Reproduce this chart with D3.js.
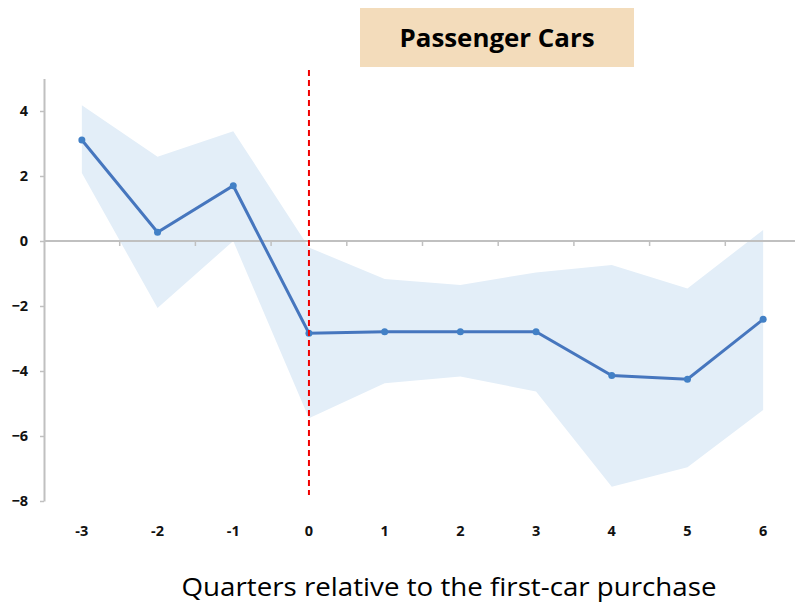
<!DOCTYPE html>
<html>
<head>
<meta charset="utf-8">
<script src="https://cdn.jsdelivr.net/npm/d3@7"></script>
<style>
  body { margin: 0; background: #fff; }
  text { font-family: "Open Sans", "Noto Sans", sans-serif; }
</style>
</head>
<body>
<div id="chart"></div>
<script>
// quarters relative to purchase
var quarters = ["-3", "-2", "-1", "0", "1", "2", "3", "4", "5", "6"];
var estimate = [3.11, 0.27, 1.70, -2.84, -2.79, -2.79, -2.79, -4.14, -4.25, -2.41];
var upper = [4.18, 2.59, 3.38, -0.2, -1.17, -1.35, -0.97, -0.74, -1.46, 0.34];
var lower = [2.09, -2.06, 0.0, -5.45, -4.38, -4.17, -4.63, -7.56, -6.96, -5.2];
var yTicks = [4, 2, 0, -2, -4, -6, -8];

var w = 795, h = 603;

var svg = d3.select("#chart").append("svg")
    .attr("width", w)
    .attr("height", h);

var xScale = d3.scaleBand()
    .domain(quarters)
    .range([44, 801]);

var yScale = d3.scaleLinear()
    .domain([-8, 5])
    .range([501, 78.5]);

function cx(d) { return xScale(d) + xScale.bandwidth() / 2; }

var rows = quarters.map(function(q, i) {
  return {q: q, est: estimate[i], hi: upper[i], lo: lower[i]};
});

// confidence band
var band = d3.area()
    .x(function(d) { return cx(d.q); })
    .y0(function(d) { return yScale(d.lo); })
    .y1(function(d) { return yScale(d.hi); });

svg.append("path")
    .datum(rows)
    .attr("d", band)
    .attr("fill", "#e3eef8");

// y axis
var yAxis = svg.append("g")
    .attr("transform", "translate(44,0)")
    .call(d3.axisLeft(yScale).tickValues(yTicks).tickSize(4).tickSizeOuter(0).tickPadding(12));
yAxis.select(".domain").attr("stroke", "#c0c0c0").attr("stroke-width", 2);
yAxis.selectAll(".tick line").attr("stroke", "#c0c0c0").attr("stroke-width", 1.5);
yAxis.selectAll(".tick text")
    .attr("font-size", 14.5)
    .attr("font-weight", "bold")
    .attr("fill", "#111");

// horizontal zero line with ticks between categories
svg.append("line")
    .attr("x1", 44).attr("x2", w)
    .attr("y1", yScale(0)).attr("y2", yScale(0))
    .attr("stroke", "#c0c0c0")
    .attr("stroke-width", 2);

svg.selectAll(".qtick")
    .data(quarters.slice(1))
    .enter()
    .append("line")
    .attr("class", "qtick")
    .attr("x1", function(d) { return xScale(d); })
    .attr("x2", function(d) { return xScale(d); })
    .attr("y1", yScale(0))
    .attr("y2", yScale(0) + 5)
    .attr("stroke", "#c0c0c0")
    .attr("stroke-width", 1.5);

// x labels at the bottom
svg.selectAll(".qlabel")
    .data(quarters)
    .enter()
    .append("text")
    .attr("class", "qlabel")
    .attr("x", function(d) { return cx(d); })
    .attr("y", 536)
    .attr("text-anchor", "middle")
    .attr("font-size", 14.5)
    .attr("font-weight", "bold")
    .attr("fill", "#111")
    .text(function(d) { return d; });

// estimate line
var line = d3.line()
    .x(function(d) { return cx(d.q); })
    .y(function(d) { return yScale(d.est); });

svg.append("path")
    .datum(rows)
    .attr("d", line)
    .attr("fill", "none")
    .attr("stroke", "#4676be")
    .attr("stroke-width", 3);

svg.selectAll(".pt")
    .data(rows)
    .enter()
    .append("circle")
    .attr("class", "pt")
    .attr("cx", function(d) { return cx(d.q); })
    .attr("cy", function(d) { return yScale(d.est); })
    .attr("r", 3.5)
    .attr("fill", "#4280c6");

// event line at quarter 0
svg.append("line")
    .attr("x1", cx("0")).attr("x2", cx("0"))
    .attr("y1", 70).attr("y2", 495)
    .attr("stroke", "#f00000")
    .attr("stroke-width", 2)
    .attr("stroke-dasharray", "6,4");

// title box
svg.append("rect")
    .attr("x", 360).attr("y", 8)
    .attr("width", 274).attr("height", 59)
    .attr("fill", "#f3dcbb");

svg.append("text")
    .attr("x", 497)
    .attr("y", 47)
    .attr("text-anchor", "middle")
    .attr("font-size", 25)
    .attr("font-weight", "bold")
    .attr("fill", "#000")
    .attr("textLength", 195)
    .attr("lengthAdjust", "spacingAndGlyphs")
    .text("Passenger Cars");

svg.append("text")
    .attr("x", 449)
    .attr("y", 596)
    .attr("text-anchor", "middle")
    .attr("font-size", 26)
    .attr("fill", "#000")
    .attr("textLength", 535)
    .attr("lengthAdjust", "spacingAndGlyphs")
    .text("Quarters relative to the first-car purchase");
</script>
</body>
</html>
